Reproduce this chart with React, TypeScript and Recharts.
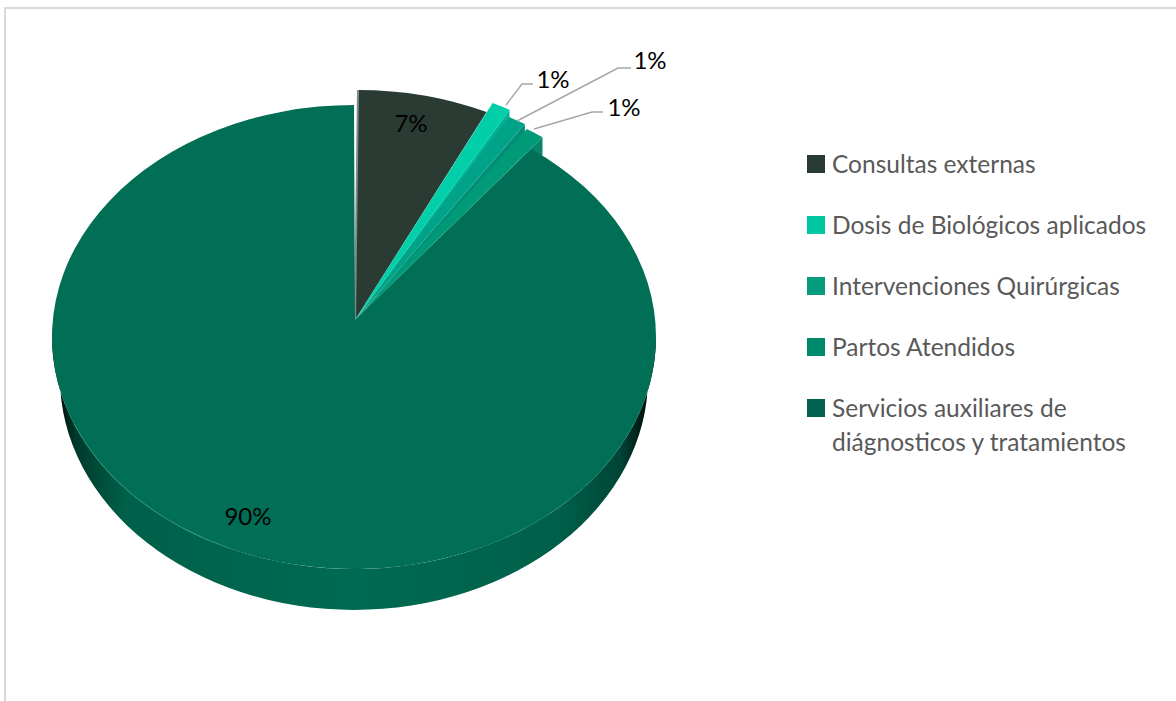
import { PieChart, Pie, Legend } from 'recharts';

const CATEGORIES = [
  'Consultas externas',
  'Intervenciones Quirúrgicas',
  'Partos Atendidos',
  'Dosis de Biológicos aplicados',
  'Servicios auxiliares de diágnosticos y tratamientos',
];
const VALUES = [7, 1, 1, 1, 90];
const COLORS = ['#2a3b33', '#00cfaa', '#00a388', '#009a79', '#006f56'];
const LEGEND_COLORS = ['#2a3b33', '#00c7a2', '#059b7e', '#008a6c', '#00634f'];
const SIDE_COLORS = ['#2a3b33', '#00b595', '#008f76', '#07846a', '#00654e'];

// how far each slice's rim is pulled away from the pie, px
const PULL_X = [4, 10, 9, 11, 0];
const PULL_Y = [-15, -24, -17, -12, 0];
const SIDE_DROP = [0, 10, 10, 18, 0];

// label placement relative to the pie centre
const LABEL_X = [57, 199, 296, 270, -106];
const LABEL_Y = [-215, -259, -278, -231, 178];
// leader lines, [slice end, elbow, tail], relative to the pie centre
const LEADERS: (number[][] | null)[] = [
  null,
  [[152, -232], [168, -253], [179, -253]],
  [[163, -216], [264, -269], [277, -269]],
  [[180, -208], [238, -225], [249, -225]],
  null,
];

const data = CATEGORIES.map((name, i) => ({ name, value: VALUES[i], fill: COLORS[i] }));

const RX = 302;
const RY = 232;
const APEX_DX = 1;
const APEX_DY = -17;
const BASE_RX = 294;
const BASE_DY = 41;

const FONT = 'Lato, Carlito, sans-serif';

function rim(cx: number, cy: number, deg: number, rx = RX, ry = RY) {
  const a = (deg * Math.PI) / 180;
  return [cx + rx * Math.cos(a), cy - ry * Math.sin(a)];
}

function Slice(props: any) {
  const { cx, cy, startAngle, endAngle, fill, name } = props;
  const i = CATEGORIES.indexOf(name);
  const ox = cx + PULL_X[i];
  const oy = cy + PULL_Y[i];
  const ax = cx + APEX_DX;
  const ay = cy + APEX_DY;
  const [sx, sy] = rim(ox, oy, startAngle);
  const [ex, ey] = rim(ox, oy, endAngle);
  const large = Math.abs(endAngle - startAngle) > 180 ? 1 : 0;
  const top = `M${ax},${ay}L${sx},${sy}A${RX},${RY} 0 ${large} 1 ${ex},${ey}Z`;
  const isMain = i === CATEGORIES.length - 1;

  if (isMain) {
    const by = cy + BASE_DY;
    const wall =
      `M${cx - RX},${cy}A${RX},${RY} 0 0 0 ${cx + RX},${cy}` +
      `L${cx + BASE_RX},${by}A${BASE_RX},${RY} 0 0 1 ${cx - BASE_RX},${by}Z`;
    const [h1x, h1y] = rim(cx, cy, -158);
    const [h2x, h2y] = rim(cx, cy, -114);
    return (
      <g>
        <defs>
          <linearGradient id="wallShade" x1="0" x2="1" y1="0" y2="0">
            <stop offset="0" stopColor="#000000" />
            <stop offset="0.04" stopColor="#003a2c" />
            <stop offset="0.12" stopColor="#006049" />
            <stop offset="0.5" stopColor="#006a52" />
            <stop offset="0.84" stopColor="#006049" />
            <stop offset="0.94" stopColor="#004536" />
            <stop offset="1" stopColor="#000000" />
          </linearGradient>
        </defs>
        <path d={wall} fill="url(#wallShade)" />
        <path d={top} fill={fill} />
        <path
          d={`M${h1x},${h1y}A${RX},${RY} 0 0 0 ${h2x},${h2y}`}
          fill="none"
          stroke="#2f9c82"
          strokeWidth={1}
          opacity={0.7}
        />
      </g>
    );
  }

  return (
    <g>
      {SIDE_DROP[i] > 0 && (
        <path d={`M${ax},${ay}L${ex},${ey}L${ex},${ey + SIDE_DROP[i]}Z`} fill={SIDE_COLORS[i]} />
      )}
      <path d={top} fill={fill} />
      {i === 0 && <path d={`M${ax},${ay}L${sx},${sy}`} stroke="#7f8b86" strokeWidth={2} fill="none" />}
    </g>
  );
}

function SliceLabel(props: any) {
  const { cx, cy, percent, index } = props;
  const pts = LEADERS[index];
  return (
    <g>
      {pts && (
        <polyline
          points={pts.map(([x, y]) => `${cx + x},${cy + y}`).join(' ')}
          fill="none"
          stroke="#a6a6a6"
          strokeWidth={1.5}
        />
      )}
      <text
        x={cx + LABEL_X[index]}
        y={cy + LABEL_Y[index]}
        textAnchor="middle"
        dominantBaseline="central"
        fontFamily={FONT}
        fontSize={24}
        fill="#000000"
      >
        {`${Math.round(percent * 100)}%`}
      </text>
    </g>
  );
}

function LegendList({ payload }: any) {
  return (
    <div style={{ fontFamily: FONT, fontSize: 24.5, lineHeight: '34px', color: '#595959' }}>
      {(payload || []).map((item: any, i: number) => (
        <div key={item.value} style={{ position: 'relative', paddingLeft: 25, marginBottom: 27 }}>
          <span
            style={{
              position: 'absolute',
              left: 0,
              top: 8,
              width: 18,
              height: 18,
              background: LEGEND_COLORS[i],
            }}
          />
          {item.value}
        </div>
      ))}
    </div>
  );
}

export default function App() {
  return (
    <div style={{ position: 'absolute', left: 0, top: 0, width: 1176, height: 701, background: '#fff', overflow: 'hidden' }}>
      <div
        style={{
          position: 'absolute',
          left: 4,
          top: 7,
          right: 0,
          bottom: 0,
          borderTop: '2px solid #d9d9d9',
          borderLeft: '2px solid #d9d9d9',
        }}
      />
      <PieChart width={1176} height={701} margin={{ top: 0, right: 0, bottom: 0, left: 0 }}>
        <Pie
          data={data}
          dataKey="value"
          nameKey="name"
          cx={354}
          cy={337}
          outerRadius={RX}
          startAngle={90}
          endAngle={-270}
          stroke="none"
          shape={Slice}
          label={SliceLabel}
          labelLine={false}
          isAnimationActive={false}
        />
        <Legend
          layout="vertical"
          align="right"
          verticalAlign="top"
          content={<LegendList />}
          wrapperStyle={{ left: 807, top: 147, right: 'auto', width: 345 }}
        />
      </PieChart>
    </div>
  );
}
